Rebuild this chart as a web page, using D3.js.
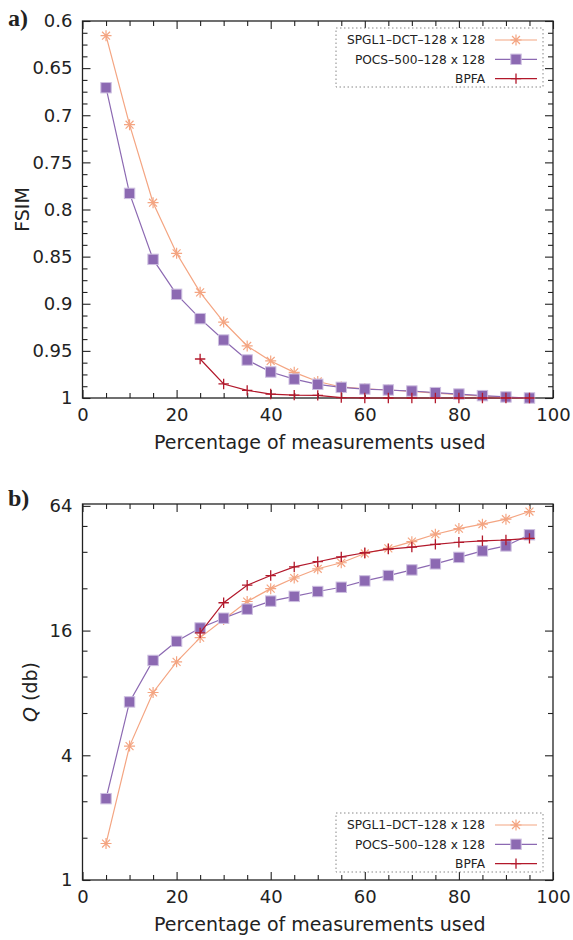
<!DOCTYPE html>
<html><head><meta charset="utf-8">
<script src="https://cdn.jsdelivr.net/npm/d3@7"></script>
<style>
body{margin:0;background:#fff;}
text{fill:#222;}
</style></head><body>
<svg id="c" width="573" height="940" font-family="DejaVu Sans, sans-serif"></svg>
<script>
// ---------- data ----------
const xs = [5,10,15,20,25,30,35,40,45,50,55,60,65,70,75,80,85,90,95];
const bpfaX = [25,30,35,40,45,50,55,60,65,70,75,80,85,90,95];

const fsimSPGL1 = [0.6156,0.710,0.7928,0.8465,0.8879,0.9194,0.9448,0.9607,0.9728,0.9825,0.9883,0.9902,0.9915,0.9930,0.9948,0.9965,0.9980,0.9992,1.0];
const fsimPOCS  = [0.6708,0.7829,0.8529,0.890,0.9158,0.9385,0.9597,0.9724,0.9800,0.9855,0.9887,0.9905,0.9915,0.9926,0.9943,0.9958,0.9975,0.9989,1.0];
const fsimBPFA  = [0.9586,0.9851,0.9919,0.9958,0.9970,0.9972,0.9995,1.0,1.0,1.0,1.0,1.0,1.0,1.0,1.0];

const qSPGL1 = [1.50,4.43,8.04,11.3,14.8,18.1,22.1,25.5,28.7,31.8,34.0,37.7,39.9,43.0,46.7,49.7,52.2,55.2,60.1];
const qPOCS  = [2.47,7.24,11.48,14.2,16.47,18.36,20.3,22.2,23.4,24.7,25.9,27.8,29.5,31.4,33.6,36.1,38.8,41.0,46.4];
const qBPFA  = [15.6,21.8,26.5,29.5,32.5,34.4,36.3,38.0,39.6,40.5,41.7,42.7,43.4,43.8,44.6];

const seriesNames = ["SPGL1\u2013DCT\u2013128 x 128","POCS\u2013500\u2013128 x 128","BPFA"];
const seriesColors = ["#f4a582","#8c69b2","#b2182b"];
const seriesMarkers = ["star","square","plus"];

const xTicksMajor = [0,20,40,60,80,100];
const xTicksMinor = [5,10,15,25,30,35,45,50,55,65,70,75,85,90,95];
const fsimTicksMajor = [0.6,0.65,0.7,0.75,0.8,0.85,0.9,0.95,1];
const fsimTickLabels = ["0.6","0.65","0.7","0.75","0.8","0.85","0.9","0.95","1"];
const qTicksMajor = [1,4,16,64];
const qTicksMinor = [1.6,2.4,3.2,6.4,9.6,12.8,25.6,38.4,51.2];

// ---------- drawing ----------
const svg = d3.select("#c");
const L = 82.5, R = 553;

function marker(g, type, x, y, color){
  if(type==="star"){
    const r=5.5, d=r*0.72;
    g.append("path").attr("d",`M${x-r},${y}L${x+r},${y}M${x},${y-r}L${x},${y+r}M${x-d},${y-d}L${x+d},${y+d}M${x-d},${y+d}L${x+d},${y-d}`)
      .attr("stroke",color).attr("stroke-width",1.2).attr("fill","none");
  } else if(type==="square"){
    g.append("rect").attr("x",x-5.2).attr("y",y-5.2).attr("width",10.4).attr("height",10.4)
      .attr("fill",color).attr("stroke","#cdbfe0").attr("stroke-width",1);
  } else {
    const r=5.2;
    g.append("path").attr("d",`M${x-r},${y}L${x+r},${y}M${x},${y-r}L${x},${y+r}`)
      .attr("stroke",color).attr("stroke-width",1.3).attr("fill","none");
  }
}

function panel(opts){
  const {top,bottom,y,yMajor,yMinor,yFmt,data,legendTop,label,labelY,ytitle,ytitleX} = opts;
  const x = d3.scaleLinear().domain([0,100]).range([L,R]);
  const g = svg.append("g");
  g.append("rect").attr("x",L).attr("y",top).attr("width",R-L).attr("height",bottom-top)
    .attr("fill","none").attr("stroke","#222").attr("stroke-width",1.3);

  const style = s => { s.select(".domain").remove(); s.attr("font-family",null); s.selectAll("line").attr("stroke","#222").attr("stroke-width",1.1); s.selectAll("text").attr("font-size",18).attr("fill","#222"); };

  g.append("g").attr("transform",`translate(0,${bottom})`).call(d3.axisBottom(x).tickValues(xTicksMajor).tickSize(-8).tickPadding(10).tickFormat(d3.format("d"))).call(style);
  g.append("g").attr("transform",`translate(0,${bottom})`).call(d3.axisBottom(x).tickValues(xTicksMinor).tickSize(-5).tickFormat("")).call(style);
  g.append("g").attr("transform",`translate(0,${top})`).call(d3.axisTop(x).tickValues(xTicksMajor).tickSize(-8).tickFormat("")).call(style);
  g.append("g").attr("transform",`translate(0,${top})`).call(d3.axisTop(x).tickValues(xTicksMinor).tickSize(-5).tickFormat("")).call(style);

  g.append("g").attr("transform",`translate(${L},0)`).call(d3.axisLeft(y).tickValues(yMajor).tickSize(-8).tickPadding(10).tickFormat(yFmt)).call(style);
  g.append("g").attr("transform",`translate(${L},0)`).call(d3.axisLeft(y).tickValues(yMinor).tickSize(-5).tickFormat("")).call(style);
  g.append("g").attr("transform",`translate(${R},0)`).call(d3.axisRight(y).tickValues(yMajor).tickSize(-8).tickFormat("")).call(style);
  g.append("g").attr("transform",`translate(${R},0)`).call(d3.axisRight(y).tickValues(yMinor).tickSize(-5).tickFormat("")).call(style);

  data.forEach((s,i)=>{
    const pts = s.x.map((xv,j)=>[xv,s.v[j]]);
    const line = d3.line().x(d=>x(d[0])).y(d=>y(d[1]));
    g.append("path").datum(pts).attr("d",line).attr("fill","none")
      .attr("stroke",seriesColors[i]).attr("stroke-width",1.2);
    pts.forEach(d=>marker(g,seriesMarkers[i],x(d[0]),y(d[1]),seriesColors[i]));
  });

  const lg = svg.append("g");
  lg.append("rect").attr("x",336).attr("y",legendTop).attr("width",207).attr("height",59)
    .attr("fill","#fff").attr("stroke","#888").attr("stroke-width",1).attr("stroke-dasharray","1.5,2.5");
  seriesNames.forEach((n,i)=>{
    const yy = legendTop+12+i*19.3;
    lg.append("text").attr("x",485).attr("y",yy).attr("dy","0.35em").attr("text-anchor","end")
      .attr("font-size",12.2).text(n);
    lg.append("line").attr("x1",495).attr("x2",537).attr("y1",yy).attr("y2",yy)
      .attr("stroke",seriesColors[i]).attr("stroke-width",1.2);
    marker(lg,seriesMarkers[i],516,yy,seriesColors[i]);
  });

  svg.append("text").attr("x",(L+R)/2+2).attr("y",bottom+51).attr("text-anchor","middle")
    .attr("font-size",19).text("Percentage of measurements used");
  const yt = svg.append("text").attr("transform",`translate(${ytitleX},${(top+bottom)/2}) rotate(-90)`)
    .attr("text-anchor","middle").attr("font-size",19);
  ytitle(yt);
  svg.append("text").attr("x",8).attr("y",labelY).attr("font-family","Liberation Serif, serif")
    .attr("font-weight","bold").attr("font-size",24).text(label);
}

const yA = d3.scaleLinear().domain([0.6,1]).range([21,398]);
const fsimMinor = d3.range(0,33).map(i=>0.6+i*0.0125).filter(v=>Math.abs((v-0.6)/0.05-Math.round((v-0.6)/0.05))>1e-6);
panel({top:21,bottom:398,y:yA,yMajor:fsimTicksMajor,yMinor:fsimMinor,
  yFmt:(d,i)=>fsimTickLabels[i],
  data:[{x:xs,v:fsimSPGL1},{x:xs,v:fsimPOCS},{x:bpfaX,v:fsimBPFA}],
  legendTop:28,label:"a)",labelY:26,ytitleX:29,
  ytitle:t=>t.text("FSIM")});

const yB = d3.scaleLog().base(2).domain([1,Math.pow(2,6.03)]).range([880,504]);
panel({top:504,bottom:880,y:yB,yMajor:qTicksMajor,yMinor:qTicksMinor,
  yFmt:d3.format("d"),
  data:[{x:xs,v:qSPGL1},{x:xs,v:qPOCS},{x:bpfaX,v:qBPFA}],
  legendTop:813,label:"b)",labelY:506,ytitleX:37,
  ytitle:t=>{t.append("tspan").attr("font-style","italic").text("Q");t.append("tspan").text(" (db)");}});
</script>
</body></html>
